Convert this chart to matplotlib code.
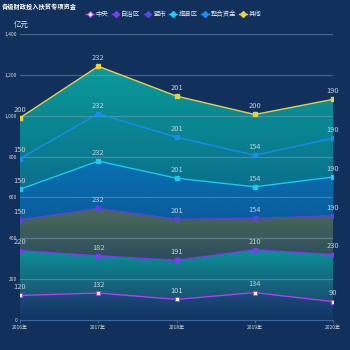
import numpy as np
import matplotlib
matplotlib.use("Agg")
import matplotlib.pyplot as plt
from matplotlib.patches import Polygon
from matplotlib.colors import LinearSegmentedColormap
from matplotlib.lines import Line2D

plt.rcParams['font.family'] = ['Noto Sans CJK SC', 'DejaVu Sans']

title = "各级财政投入扶贫专项资金"
years = ["2016年", "2017年", "2018年", "2019年", "2020年"]
series_names = ["中央", "自治区", "盟市", "旗县区", "整合资金", "其他"]
zhongyang = [120, 132, 101, 134, 90]
zizhiqu = [220, 182, 191, 210, 230]
mengshi = [150, 232, 201, 154, 190]
qixianqu = [150, 232, 201, 154, 190]
zhenghe = [150, 232, 201, 154, 190]
qita = [200, 232, 201, 200, 190]
y_ticks = [0, 200, 400, 600, 800, 1000, 1200, 1400]
y_unit = "亿元"

data = [zhongyang, zizhiqu, mengshi, qixianqu, zhenghe, qita]
line_colors = ["#b040f0", "#7a3cf0", "#5a44e0", "#1ec8f0", "#1a8cf0", "#e8d040"]
fill_top = ["#1a4a7a", "#0a9196", "#4b6b5a", "#0a70b2", "#0a8a94", "#0a9a9c"]
fill_bot = ["#123666", "#1a4e72", "#2c4c5e", "#0a5c9c", "#0b6f8e", "#0b7a8c"]

bg = "#11315c"
fig = plt.figure(figsize=(3.5, 3.5), dpi=100, facecolor=bg)
ax = fig.add_axes([20/350, 30/350, 313/350, 286/350])
ax.set_facecolor(bg)

x = np.arange(len(years))
cum = np.zeros(len(years))
for i, vals in enumerate(data):
    vals = np.array(vals, dtype=float)
    lo = cum.copy()
    hi = cum + vals
    verts = np.column_stack([np.r_[x, x[::-1]], np.r_[hi, lo[::-1]]])
    poly = Polygon(verts, closed=True, facecolor='none', edgecolor='none')
    ax.add_patch(poly)
    cmap = LinearSegmentedColormap.from_list('g%d' % i, [fill_bot[i], fill_top[i]])
    grad = np.linspace(0, 1, 256).reshape(-1, 1)
    im = ax.imshow(grad, extent=[x.min(), x.max(), lo.min(), hi.max()], origin='lower',
                   aspect='auto', cmap=cmap, zorder=1 + i * 0.01, interpolation='bilinear')
    im.set_clip_path(poly)
    cum = hi

# grid lines
for t in y_ticks[1:]:
    ax.axhline(t, color="#8fa6b8", lw=0.9, alpha=0.45, zorder=2)

cum = np.zeros(len(years))
for i, vals in enumerate(data):
    vals = np.array(vals, dtype=float)
    hi = cum + vals
    ax.plot(x, hi, color=line_colors[i], lw=1.0, zorder=3)
    if i == 0:
        ax.plot(x, hi, ls='none', marker='s', ms=3, mfc='white', mec=line_colors[i], mew=0.8, zorder=4)
    else:
        ax.plot(x, hi, ls='none', marker='s', ms=2.6, mfc=line_colors[i], mec=line_colors[i], zorder=4)
    for xi, yi, v in zip(x, hi, vals):
        ax.annotate(f"{int(v)}", (xi, yi), xytext=(0, 3), textcoords='offset points',
                    ha='center', va='bottom', fontsize=5.4, color="#c3cdd8", zorder=5)
    cum = hi

ax.set_xlim(0, len(years) - 1)
ax.set_ylim(0, 1400)
ax.set_xticks(x)
ax.set_xticklabels(years, fontsize=3.6, color="#d0d8e0")
ax.set_yticks(y_ticks)
ax.set_yticklabels([f"{t:,}" for t in y_ticks], fontsize=3.6, color="#d0d8e0")
ax.tick_params(axis='y', length=0, pad=2)
ax.tick_params(axis='x', length=2, color="#3a6a9a", pad=1.5)
for s in ['top', 'right', 'left']:
    ax.spines[s].set_visible(False)
ax.spines['bottom'].set_color("#3a6a9a")
ax.spines['bottom'].set_linewidth(0.8)

fig.text(14/350, 1 - 25/350, y_unit, fontsize=5.4, color="#e0e6ee", ha='left', va='center')
fig.text(2/350, 1 - 7/350, title, fontsize=4.5, color="white", fontweight='bold', ha='left', va='center')

# legend
handles = []
for i, n in enumerate(series_names):
    if i == 0:
        h = Line2D([], [], color=line_colors[i], lw=1.0, marker='D', ms=3, mfc='white', mec=line_colors[i], mew=0.8)
    else:
        h = Line2D([], [], color=line_colors[i], lw=1.0, marker='D', ms=3, mfc=line_colors[i], mec=line_colors[i])
    handles.append(h)
leg = fig.legend(handles, series_names, loc='center', bbox_to_anchor=(174/350, 1 - 14/350), ncol=6,
                 frameon=False, fontsize=4.6, labelcolor="#e0e6ee", handlelength=1.2,
                 handletextpad=0.3, columnspacing=0.5, borderaxespad=0)

fig.savefig("out.png", dpi=100, facecolor=bg)
